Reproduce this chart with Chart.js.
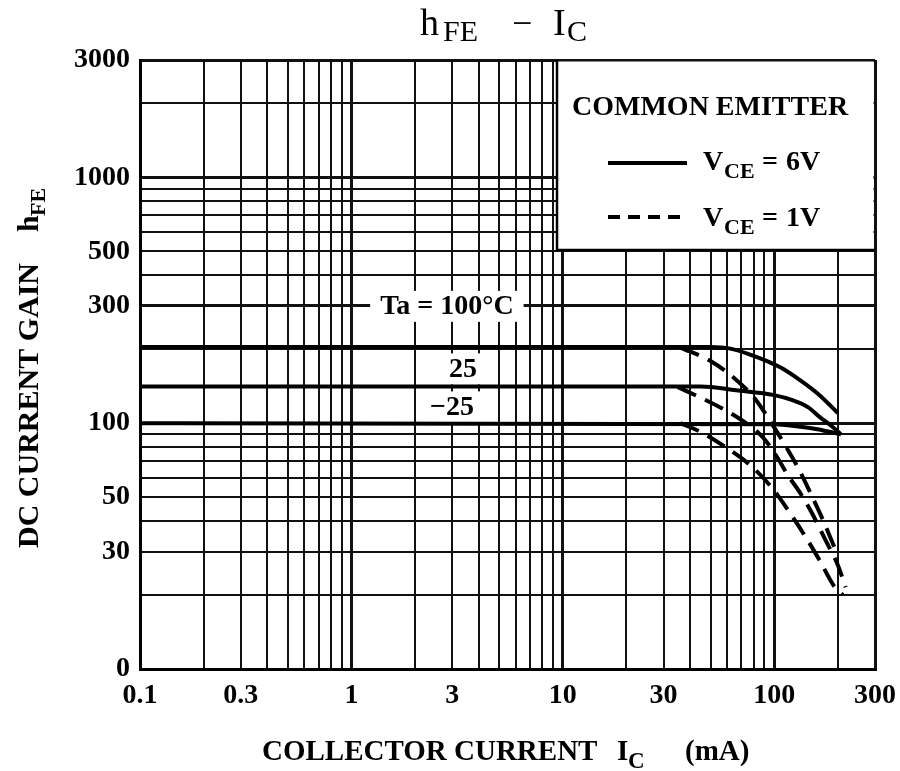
<!DOCTYPE html>
<html>
<head>
<meta charset="utf-8">
<script src="https://cdn.jsdelivr.net/npm/chart.js@4.4.0/dist/chart.umd.min.js"></script>
<style>
  body { margin: 0; background: #fff; }
  canvas { display: block; }
</style>
</head>
<body>
<canvas id="hfeChart" width="900" height="771"></canvas>
<script>
// grid lines of the log paper
const xGrid = [0.1, 0.2, 0.3, 0.4, 0.5, 0.6, 0.7, 0.8, 0.9,
  1, 2, 3, 4, 5, 6, 7, 8, 9,
  10, 20, 30, 40, 50, 60, 70, 80, 90,
  100, 200, 300];
const yGrid = [10, 20, 30, 40, 50, 60, 70, 80, 90,
  100, 200, 300, 400, 500, 600, 700, 800, 900,
  1000, 2000, 3000];

// labelled ticks
const xTickValues = [0.1, 0.3, 1, 3, 10, 30, 100, 300];
const xTickLabels = ["0.1", "0.3", "1", "3", "10", "30", "100", "300"];
const yTickValues = [10, 30, 50, 100, 300, 500, 1000, 3000];
const yTickLabels = ["0", "30", "50", "100", "300", "500", "1000", "3000"];
const heavyLines = [0.1, 1, 10, 100, 300, 1000, 3000];

// VCE = 6V (solid)
const ic6_100 = [0.1, 50, 62, 77, 95, 108, 132, 164, 200];
const hfe6_100 = [204, 204, 201, 190, 177, 168, 150, 130, 110];
const ic6_25 = [0.1, 45, 66, 100, 122, 145, 164, 185, 207];
const hfe6_25 = [141, 141, 136, 130, 124, 116, 106, 98, 90];
const ic6_m25 = [0.1, 100, 130, 160, 185, 207];
const hfe6_m25 = [100, 99, 97, 94.5, 92, 90];

// VCE = 1V (dashed)
const ic1_100 = [36, 50, 65, 81, 95, 112, 132, 150, 171, 195];
const hfe1_100 = [203, 179, 152, 126, 103, 82, 64, 51, 40, 30.5];
const ic1_25 = [35, 44, 56.5, 70, 88, 103, 116, 132, 150, 175, 200, 218];
const hfe1_25 = [140, 128, 115, 103, 88, 73, 61.5, 52.4, 43.5, 33.4, 26.5, 21.5];
const ic1_m25 = [36, 45, 58, 77, 97, 118, 141, 164, 191, 211];
const hfe1_m25 = [100, 92, 80.6, 67.5, 55, 43.5, 34.4, 27.7, 21.9, 20];

// curve labels
const noteText = ["Ta = 100°C", "25", "\u221225"];
const noteX = [2.83, 3.37, 2.99];
const noteY = [300, 167, 117];

const SERIF = '"Liberation Serif", "Times New Roman", serif';

function pts(xs, ys) {
  return xs.map((x, i) => ({ x: x, y: ys[i] }));
}

function sameVal(a, b) {
  return Math.abs(a - b) / b < 1e-6;
}

function lookup(values, labels, v) {
  for (let i = 0; i < values.length; i++) {
    if (sameVal(values[i], v)) return labels[i];
  }
  return "";
}

function isHeavy(v) {
  return heavyLines.some((d) => sameVal(d, v));
}

// text pieces placed at given x positions (for subscripts)
function drawAt(ctx, y, runs) {
  runs.forEach((r) => {
    ctx.font = r.font;
    ctx.fillText(r.t, r.x, y + (r.dy || 0));
  });
}

const big = "bold 28px " + SERIF;
const sub = "bold 22px " + SERIF;

const paperPlugin = {
  id: "paper",
  beforeDatasetsDraw(chart) {
    const ctx = chart.ctx;
    const xs = chart.scales.x;
    const ys = chart.scales.y;
    const area = chart.chartArea;
    ctx.save();
    ctx.fillStyle = "#000";
    ctx.textBaseline = "middle";
    ctx.textAlign = "center";

    // curve labels with white boxes
    for (let i = 0; i < noteText.length; i++) {
      const px = xs.getPixelForValue(noteX[i]);
      const py = ys.getPixelForValue(noteY[i]);
      ctx.font = big;
      const w = ctx.measureText(noteText[i]).width;
      ctx.fillStyle = "#fff";
      ctx.fillRect(px - w / 2 - 10, py - 15, w + 20, 31);
      ctx.fillStyle = "#000";
      ctx.fillText(noteText[i], px, py + 1);
    }

    // legend box
    const bx = 557, by = 250;
    ctx.fillStyle = "#fff";
    ctx.fillRect(bx, area.top + 1.5, area.right - bx - 1.5, by - area.top - 1.5);
    ctx.strokeStyle = "#000";
    ctx.lineWidth = 2.5;
    ctx.beginPath();
    ctx.moveTo(bx, area.top);
    ctx.lineTo(bx, by);
    ctx.lineTo(area.right, by);
    ctx.stroke();

    ctx.fillStyle = "#000";
    ctx.textAlign = "left";
    ctx.textBaseline = "alphabetic";
    ctx.font = big;
    ctx.fillText("COMMON EMITTER", 572, 115);

    ctx.lineWidth = 4;
    ctx.beginPath();
    ctx.moveTo(608, 163);
    ctx.lineTo(687, 163);
    ctx.stroke();
    drawAt(ctx, 170, [
      { t: "V", font: big, x: 703 },
      { t: "CE", font: sub, x: 724, dy: 8 },
      { t: "=", font: big, x: 762 },
      { t: "6V", font: big, x: 786 },
    ]);

    ctx.setLineDash([12, 8]);
    ctx.beginPath();
    ctx.moveTo(608, 217);
    ctx.lineTo(688, 217);
    ctx.stroke();
    ctx.setLineDash([]);
    drawAt(ctx, 226, [
      { t: "V", font: big, x: 703 },
      { t: "CE", font: sub, x: 724, dy: 8 },
      { t: "=", font: big, x: 762 },
      { t: "1V", font: big, x: 786 },
    ]);
    ctx.restore();
  },
  afterDraw(chart) {
    const ctx = chart.ctx;
    ctx.save();
    ctx.fillStyle = "#000";
    ctx.textAlign = "left";
    ctx.textBaseline = "alphabetic";

    // title
    drawAt(ctx, 35, [
      { t: "h", font: "38px " + SERIF, x: 420 },
      { t: "FE", font: "30px " + SERIF, x: 443, dy: 6 },
      { t: "\u2212", font: "36px " + SERIF, x: 512 },
      { t: "I", font: "38px " + SERIF, x: 553 },
      { t: "C", font: "30px " + SERIF, x: 567, dy: 6 },
    ]);

    // x axis title
    const xt = "bold 29px " + SERIF;
    drawAt(ctx, 760, [
      { t: "COLLECTOR CURRENT", font: xt, x: 262 },
      { t: "I", font: xt, x: 617 },
      { t: "C", font: "bold 23px " + SERIF, x: 628, dy: 8 },
      { t: "(mA)", font: xt, x: 685 },
    ]);

    // y axis title
    ctx.translate(38, 548);
    ctx.rotate(-Math.PI / 2);
    const yt = "bold 30px " + SERIF;
    drawAt(ctx, 0, [
      { t: "DC CURRENT GAIN", font: yt, x: 0 },
      { t: "h", font: yt, x: 316 },
      { t: "FE", font: sub, x: 332, dy: 7 },
    ]);
    ctx.restore();
  },
};

const curve = (data, dashed) => ({
  data: data,
  borderColor: "#000",
  borderWidth: 4,
  borderDash: dashed ? [20, 10] : [],
  pointRadius: 0,
  fill: false,
  cubicInterpolationMode: "monotone",
});

const gridStyle = {
  color: "#111",
  lineWidth: (c) => (c.tick && isHeavy(c.tick.value) ? 3 : 2),
  drawTicks: false,
};

new Chart(document.getElementById("hfeChart"), {
  type: "line",
  data: {
    datasets: [
      curve(pts(ic6_100, hfe6_100), false),
      curve(pts(ic6_25, hfe6_25), false),
      curve(pts(ic6_m25, hfe6_m25), false),
      curve(pts(ic1_100, hfe1_100), true),
      curve(pts(ic1_25, hfe1_25), true),
      curve(pts(ic1_m25, hfe1_m25), true),
    ],
  },
  options: {
    responsive: false,
    animation: false,
    layout: { padding: { top: 60, right: 25, left: 0, bottom: 0 } },
    plugins: {
      legend: { display: false },
      tooltip: { enabled: false },
      title: { display: false },
    },
    scales: {
      x: {
        type: "logarithmic",
        min: 0.1,
        max: 300,
        grid: gridStyle,
        border: { color: "#000", width: 3 },
        afterBuildTicks: (s) => {
          s.ticks = xGrid.map((v) => ({ value: v }));
        },
        afterFit: (s) => {
          s.height = 102;
          s.paddingLeft = 0;
          s.paddingRight = 0;
        },
        ticks: {
          autoSkip: false,
          maxRotation: 0,
          padding: 10,
          color: "#000",
          font: { family: SERIF, size: 28, weight: "bold" },
          callback: (v) => lookup(xTickValues, xTickLabels, v),
        },
      },
      y: {
        type: "logarithmic",
        min: 10,
        max: 3000,
        grid: gridStyle,
        border: { color: "#000", width: 3 },
        afterBuildTicks: (s) => {
          s.ticks = yGrid.map((v) => ({ value: v }));
        },
        afterFit: (s) => {
          s.width = 140;
          s.paddingTop = 0;
          s.paddingBottom = 0;
        },
        ticks: {
          autoSkip: false,
          padding: 10,
          color: "#000",
          font: { family: SERIF, size: 28, weight: "bold" },
          callback: (v) => lookup(yTickValues, yTickLabels, v),
        },
      },
    },
  },
  plugins: [paperPlugin],
});
</script>
</body>
</html>
